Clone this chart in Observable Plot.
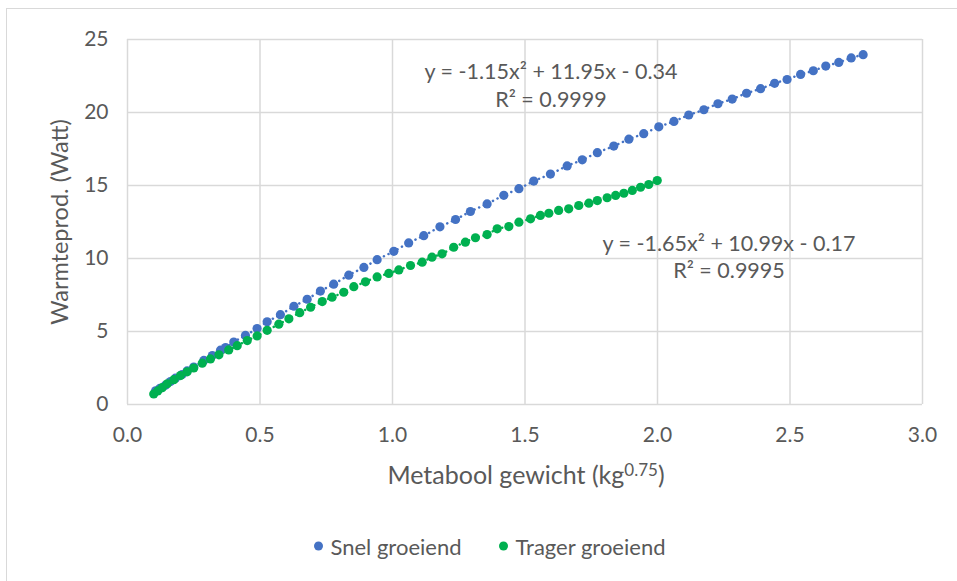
<!DOCTYPE html>
<html><head><meta charset="utf-8">
<script src="https://cdn.jsdelivr.net/npm/d3@7"></script>
<script src="https://cdn.jsdelivr.net/npm/@observablehq/plot@0.6"></script>
<style>
body{margin:0;background:#fff;font-family:Lato,sans-serif;}
#wrap{position:relative;width:957px;height:581px;overflow:hidden;background:#fff;}
#frame{position:absolute;left:6px;top:8px;width:980px;height:620px;border:1.5px solid #d9d9d9;box-sizing:border-box;}
#chart{position:absolute;left:0;top:0;}
.lbl{position:absolute;color:#595959;white-space:nowrap;line-height:1;}
.c{transform:translate(-50%,-50%);}
sup{font-size:0.68em;vertical-align:0.45em;line-height:0;}
.leg{position:absolute;top:546px;transform:translateY(-50%);color:#595959;font-size:22px;white-space:nowrap;display:flex;align-items:center;}
.leg span.dot{display:inline-block;width:9px;height:9px;border-radius:50%;margin-right:8px;}
</style></head><body>
<div id="wrap">
  <div id="frame"></div>
  <div id="chart"></div>
  <div class="lbl c" id="xt" style="left:526px;top:474px;font-size:25px;"></div>
  <div class="lbl" id="yt" style="left:60px;top:222px;font-size:23.5px;transform:translate(-50%,-50%) rotate(-90deg);"></div>
  <div class="lbl c" id="e1a" style="left:551px;top:72px;font-size:21.5px;"></div>
  <div class="lbl c" id="e1b" style="left:551px;top:100px;font-size:21.5px;"></div>
  <div class="lbl c" id="e2a" style="left:729px;top:244px;font-size:21.5px;"></div>
  <div class="lbl c" id="e2b" style="left:729px;top:271px;font-size:21.5px;"></div>
  <div id="legend"></div>
</div>
<script>
// ---- data ----
const seriesNames = ["Snel groeiend", "Trager groeiend"];
const seriesColors = ["#4472C4", "#00B050"];

const snelX = [0.106,0.122,0.143,0.162,0.181,0.206,0.225,0.250,0.288,0.320,0.351,0.370,0.401,0.445,0.489,0.527,0.577,0.628,0.678,0.728,0.778,0.835,0.892,0.942,1.005,1.061,1.118,1.179,1.238,1.294,1.357,1.420,1.477,1.533,1.596,1.659,1.716,1.773,1.835,1.892,1.948,2.005,2.062,2.118,2.175,2.228,2.282,2.336,2.389,2.442,2.489,2.540,2.588,2.635,2.684,2.731,2.776];
const snelY = [0.94,1.10,1.32,1.57,1.80,2.05,2.30,2.56,3.02,3.35,3.72,3.90,4.28,4.73,5.20,5.66,6.15,6.73,7.21,7.77,8.24,8.86,9.39,9.92,10.49,11.07,11.56,12.17,12.67,13.22,13.74,14.33,14.78,15.30,15.78,16.34,16.76,17.25,17.70,18.17,18.55,19.02,19.39,19.83,20.19,20.60,20.92,21.32,21.63,22.00,22.26,22.61,22.86,23.18,23.43,23.74,23.96];

const tragerX = [0.099,0.114,0.131,0.150,0.175,0.200,0.225,0.250,0.282,0.313,0.345,0.382,0.414,0.452,0.489,0.527,0.571,0.609,0.650,0.691,0.735,0.772,0.816,0.854,0.898,0.942,0.986,1.024,1.068,1.112,1.149,1.187,1.231,1.275,1.313,1.357,1.395,1.439,1.477,1.521,1.558,1.590,1.627,1.665,1.703,1.741,1.773,1.810,1.842,1.873,1.905,1.936,1.967,1.999];
const tragerY = [0.72,0.93,1.15,1.42,1.70,1.98,2.24,2.50,2.83,3.12,3.40,3.74,4.03,4.38,4.70,5.08,5.50,5.87,6.29,6.66,7.05,7.35,7.69,8.07,8.40,8.74,8.98,9.22,9.52,9.75,10.09,10.32,10.77,11.12,11.42,11.64,12.03,12.19,12.49,12.72,12.95,13.10,13.29,13.40,13.63,13.79,13.97,14.16,14.32,14.47,14.66,14.88,15.07,15.34];

const xTicks = [0, 0.5, 1.0, 1.5, 2.0, 2.5, 3.0];
const yTicks = [0, 5, 10, 15, 20, 25];

const xTitle = "Metabool gewicht (kg";
const xTitleSup = "0.75";
const yTitle = "Warmteprod. (Watt)";
const eq1 = ["y = -1.15x² + 11.95x - 0.34", "R² = 0.9999"];
const eq2 = ["y = -1.65x² + 10.99x - 0.17", "R² = 0.9995"];

// ---- build ----
const snel = snelX.map((x, i) => ({x, y: snelY[i], s: seriesNames[0]}));
const trager = tragerX.map((x, i) => ({x, y: tragerY[i], s: seriesNames[1]}));

const grid = "#d9d9d9";
const chart = Plot.plot({
  width: 957,
  height: 470,
  marginLeft: 127,
  marginRight: 35,
  marginTop: 39,
  marginBottom: 66,
  style: {fontFamily: "Lato, sans-serif", fontSize: "21px", color: "#595959", background: "transparent"},
  x: {domain: [0, 3], label: null},
  y: {domain: [0, 25], label: null},
  color: {domain: seriesNames, range: seriesColors},
  marks: [
    Plot.gridX(xTicks, {stroke: grid, strokeOpacity: 1, strokeWidth: 1.5}),
    Plot.gridY(yTicks, {stroke: grid, strokeOpacity: 1, strokeWidth: 1.5}),
    Plot.axisX(xTicks, {tickSize: 0, tickPadding: 23, tickFormat: d3.format(".1f")}),
    Plot.axisY(yTicks, {tickSize: 0, tickPadding: 19, tickFormat: d3.format("d")}),
    Plot.line(snel, {x: "x", y: "y", stroke: seriesColors[0], strokeWidth: 2.5, strokeDasharray: "0.1,5", strokeLinecap: "round", curve: "monotone-x"}),
    Plot.line(trager, {x: "x", y: "y", stroke: seriesColors[1], strokeWidth: 2.5, strokeDasharray: "0.1,5", strokeLinecap: "round", curve: "monotone-x"}),
    Plot.dot(snel, {x: "x", y: "y", fill: "s", r: 4.6}),
    Plot.dot(trager, {x: "x", y: "y", fill: "s", r: 4.6})
  ]
});
document.getElementById("chart").appendChild(chart);

document.getElementById("xt").innerHTML = xTitle + "<sup>" + xTitleSup + "</sup>)";
document.getElementById("yt").textContent = yTitle;
document.getElementById("e1a").textContent = eq1[0];
document.getElementById("e1b").textContent = eq1[1];
document.getElementById("e2a").textContent = eq2[0];
document.getElementById("e2b").textContent = eq2[1];

const legPos = [318, 503];
const lg = document.getElementById("legend");
seriesNames.forEach((n, i) => {
  const d = document.createElement("div");
  d.className = "leg";
  d.style.left = (legPos[i] - 4.5) + "px";
  d.innerHTML = `<span class="dot" style="background:${seriesColors[i]}"></span>${n}`;
  lg.appendChild(d);
});
</script>
</body></html>
